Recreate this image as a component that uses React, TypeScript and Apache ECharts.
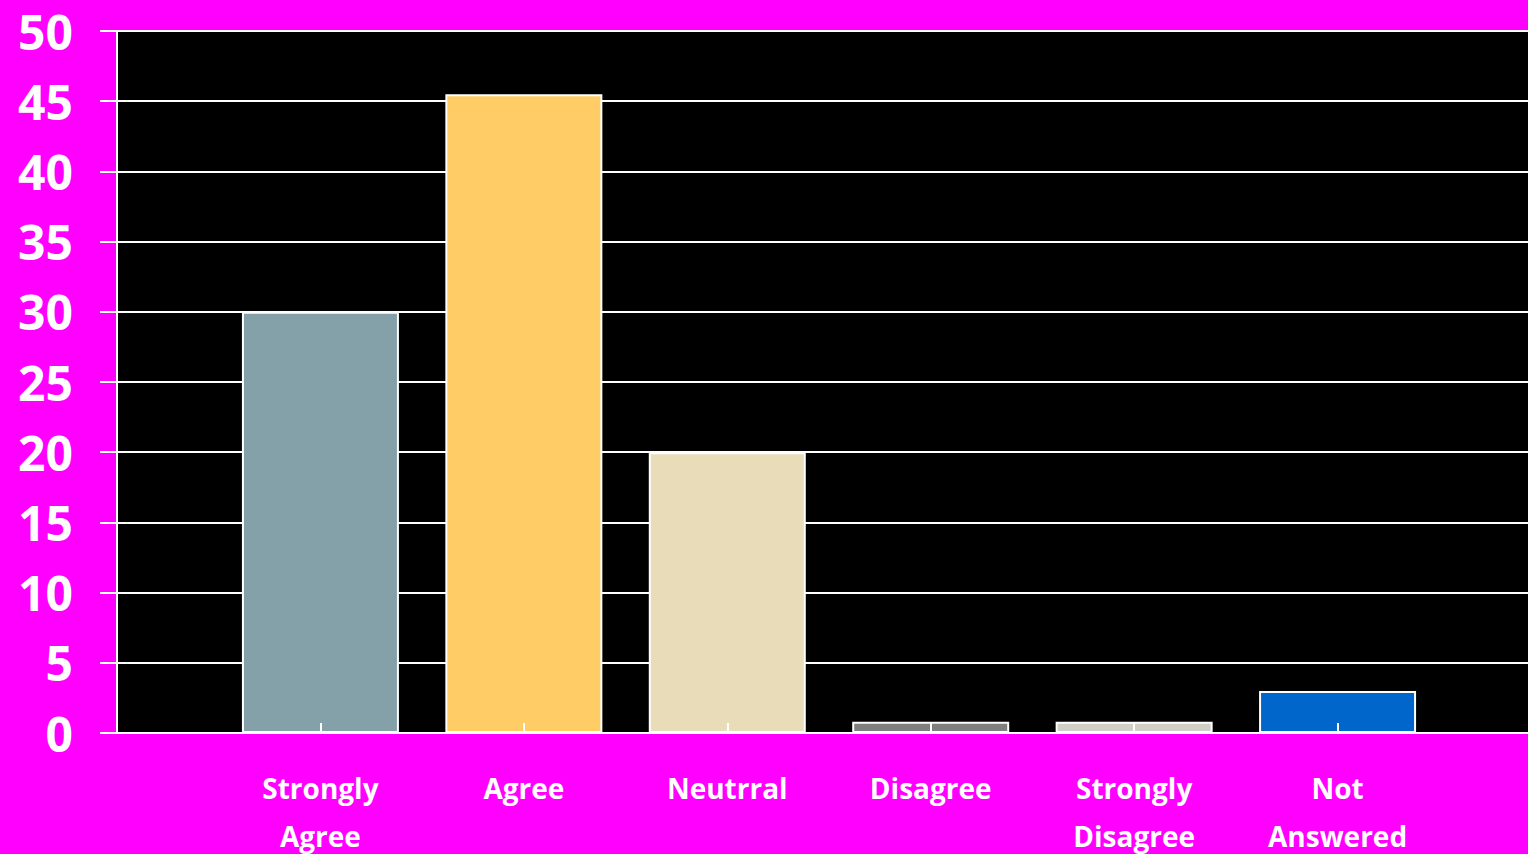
import React, { useEffect, useRef } from "react";
import * as echarts from "echarts";

const categories = ["", "Strongly\nAgree", "Agree", "Neutrral", "Disagree", "Strongly\nDisagree", "Not\nAnswered", ""];
const values: (number | null)[] = [null, 30, 45.5, 20, 0.8, 0.8, 3, null];
const barColors = ["#000000", "#84A0A8", "#FFCC66", "#E8DCB9", "#7F7F7F", "#D0D0C8", "#0066CC", "#000000"];
const yTicks = { min: 0, max: 50, interval: 5 };

export default function App() {
  const ref = useRef<HTMLDivElement>(null);
  useEffect(() => {
    if (!ref.current) return;
    const chart = echarts.init(ref.current, undefined, { renderer: "svg" });
    const font = "'Open Sans', 'DejaVu Sans', sans-serif";
    chart.setOption({
      animation: false,
      backgroundColor: "#FF00FF",
      grid: {
        left: 117,
        right: 0,
        top: 31,
        bottom: 121,
        containLabel: false,
        outerBoundsMode: "none",
        show: true,
        backgroundColor: "#000000",
        borderWidth: 0,
      },
      xAxis: {
        type: "category",
        data: categories,
        boundaryGap: false,
        z: 5,
        axisLine: { show: true, lineStyle: { color: "#FFFFFF", width: 2 } },
        axisTick: { show: true, inside: true, length: 10, lineStyle: { color: "#FFFFFF", width: 2 } },
        axisLabel: {
          color: "#FFFFFF",
          fontFamily: font,
          fontWeight: "bold",
          fontSize: 28,
          lineHeight: 48,
          margin: 31,
          interval: 0,
          verticalAlign: "top",
        },
        splitLine: { show: false },
      },
      yAxis: {
        type: "value",
        min: yTicks.min,
        max: yTicks.max,
        interval: yTicks.interval,
        axisLine: { show: true, lineStyle: { color: "#FFFFFF", width: 2 } },
        axisTick: { show: true, length: 17, lineStyle: { color: "#FFFFFF", width: 2 } },
        axisLabel: {
          color: "#FFFFFF",
          fontFamily: font,
          fontWeight: "bold",
          fontSize: 48,
          margin: 44,
        },
        splitLine: { show: true, lineStyle: { color: "#FFFFFF", width: 2 } },
      },
      series: [
        {
          type: "bar",
          barWidth: 157,
          data: values.map((v, i) => ({
            value: v,
            itemStyle: { color: barColors[i], borderColor: "#FFFFFF", borderWidth: 2 },
          })),
        },
      ],
    });
    return () => chart.dispose();
  }, []);
  return (
    <div style={{ position: "absolute", left: 0, top: 0, width: 1528, height: 854, overflow: "hidden" }}>
      <div ref={ref} style={{ width: 1541, height: 854 }} />
    </div>
  );
}
